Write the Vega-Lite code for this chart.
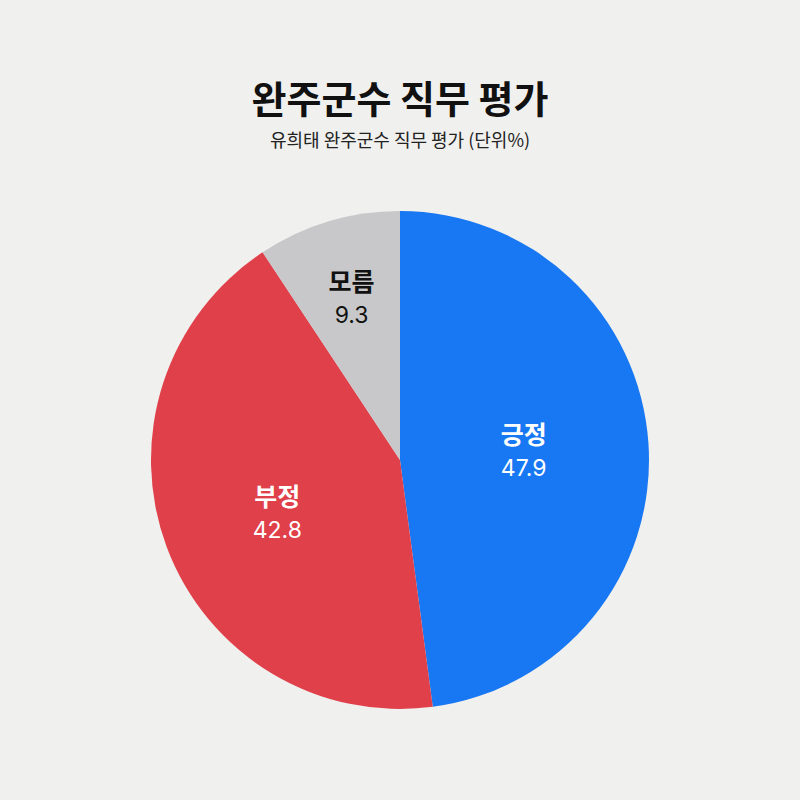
{
  "$schema": "https://vega.github.io/schema/vega-lite/v6.json",
  "width": 800,
  "height": 596,
  "autosize": {"type": "none"},
  "padding": {"left": 0, "right": 0, "top": 162, "bottom": 42},
  "background": "#f0f0ee",
  "title": {
    "text": "완주군수 직무 평가",
    "subtitle": "유희태 완주군수 직무 평가 (단위%)",
    "anchor": "middle",
    "frame": "group",
    "offset": 11,
    "font": "Noto Sans CJK KR",
    "fontSize": 38,
    "fontWeight": "bold",
    "color": "#111111",
    "subtitleFont": "Noto Sans CJK KR",
    "subtitleFontSize": 18,
    "subtitleColor": "#222222",
    "subtitlePadding": 12
  },
  "data": {
    "values": [
      {"category": "긍정", "value": 47.9, "idx": 1},
      {"category": "부정", "value": 42.8, "idx": 2},
      {"category": "모름", "value": 9.3, "idx": 3}
    ]
  },
  "encoding": {
    "theta": {"field": "value", "type": "quantitative", "stack": true},
    "order": {"field": "idx", "type": "ordinal"}
  },
  "layer": [
    {
      "mark": {"type": "arc", "outerRadius": 249},
      "encoding": {
        "color": {
          "field": "category",
          "type": "nominal",
          "scale": {"domain": ["긍정", "부정", "모름"], "range": ["#1877f2", "#e0404a", "#c8c8ca"]},
          "legend": null
        }
      }
    },
    {
      "mark": {
        "type": "text", "font": "Noto Sans CJK KR", "fontSize": 25, "fontWeight": "bold",
        "baseline": "middle", "align": "center",
        "dy": {"expr": "datum.category === '부정' ? -8 : -16"},
        "radius": {"expr": "datum.category === '모름' ? 168 : datum.category === '부정' ? 131 : 124"}
      },
      "encoding": {
        "text": {"field": "category"},
        "color": {
          "condition": {"test": "datum.category === '모름'", "value": "#111111"},
          "value": "#ffffff"
        }
      }
    },
    {
      "mark": {
        "type": "text", "font": "Inter", "fontSize": 23,
        "baseline": "middle", "align": "center",
        "dy": {"expr": "datum.category === '부정' ? 25 : 17"},
        "radius": {"expr": "datum.category === '모름' ? 168 : datum.category === '부정' ? 131 : 124"}
      },
      "encoding": {
        "text": {"field": "value", "type": "quantitative", "format": ".1f"},
        "color": {
          "condition": {"test": "datum.category === '모름'", "value": "#111111"},
          "value": "#ffffff"
        }
      }
    }
  ],
  "config": {"view": {"stroke": null}}
}
